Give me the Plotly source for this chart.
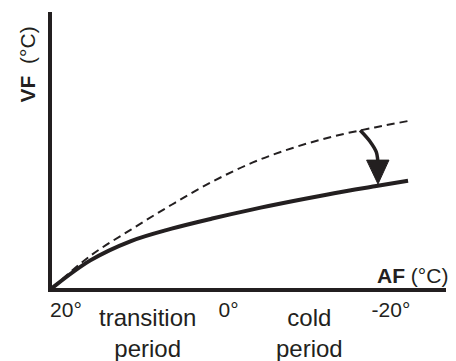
import plotly.graph_objects as go

# data (AF outdoor temp, VF flow temp)
af = [21.7, 17, 12, 7, 2, -3, -8, -13, -18, -22.1]
vf_new = [20, 26.0, 30.2, 32.9, 35.1, 37.1, 38.9, 40.6, 42.1, 43.3]
vf_old = [20, 27.0, 32.7, 38.1, 43.1, 47.3, 50.5, 53.0, 54.9, 56.3]

tick_vals = [20, 0, -20]
tick_text = ["20°", "0°", "-20°"]

periods = ["transition<br>period", "cold<br>period"]
period_x = [10, -10]

# curved arrow from old curve down to new one
arrow_x = [-16.2, -17.4, -18.2, -18.4]
arrow_y = [54.3, 51.9, 49.5, 46.5]
head_x = [-17.0, -18.4, -19.75, -17.0]
head_y = [47.8, 42.6, 47.8, 47.8]

ink = "#231f20"
fnt = "Arial, Liberation Sans, sans-serif"

fig = go.Figure()

#dashed curve
fig.add_trace(go.Scatter(x=af, y=vf_old, mode="lines", line_shape="spline",
                         line=dict(color=ink, width=2, dash="8px,5px")))
#solid curve
fig.add_trace(go.Scatter(x=af, y=vf_new, mode="lines", line_shape="spline",
                         line=dict(color=ink, width=4)))
#arrow
fig.add_trace(go.Scatter(x=arrow_x, y=arrow_y, mode="lines", line_shape="spline",
                         line=dict(color=ink, width=3.5)))
fig.add_trace(go.Scatter(x=head_x, y=head_y, mode="lines", fill="toself",
                         fillcolor=ink, line=dict(color=ink, width=1)))

for txt, xv in zip(periods, period_x):
    fig.add_annotation(x=xv, y=-0.162, xref="x", yref="paper", text=txt,
                       showarrow=False, font=dict(family=fnt, size=24, color=ink),
                       xanchor="center", yanchor="middle")

fig.add_annotation(x=1, y=0.047, xref="paper", yref="paper", xshift=4,
                   text="<b>AF</b> (°C)", showarrow=False,
                   font=dict(family=fnt, size=21, color=ink),
                   xanchor="right", yanchor="middle")
fig.add_annotation(x=0, y=0.81, xref="paper", yref="paper", xshift=-25,
                   text="<b>VF</b>  (°C)", showarrow=False, textangle=-90,
                   font=dict(family=fnt, size=21, color=ink),
                   xanchor="center", yanchor="middle")

# page body adds ~8px offset, so the figure is a bit smaller
fig.update_layout(
    width=448, height=353,
    margin=dict(l=44, r=10, t=4, b=73),
    paper_bgcolor="white", plot_bgcolor="white",
    showlegend=False,
    xaxis=dict(range=[21.72, -26.77], showgrid=False, zeroline=False,
               showline=True, linecolor=ink, linewidth=3.5,
               tickvals=tick_vals, ticktext=tick_text, ticks="",
               tickfont=dict(family=fnt, size=21, color=ink),
               automargin=False),
    yaxis=dict(range=[20, 80], showgrid=False, zeroline=False,
               showline=True, linecolor=ink, linewidth=3.5,
               showticklabels=False, ticks="", automargin=False),
)

fig.write_html("out.html")
